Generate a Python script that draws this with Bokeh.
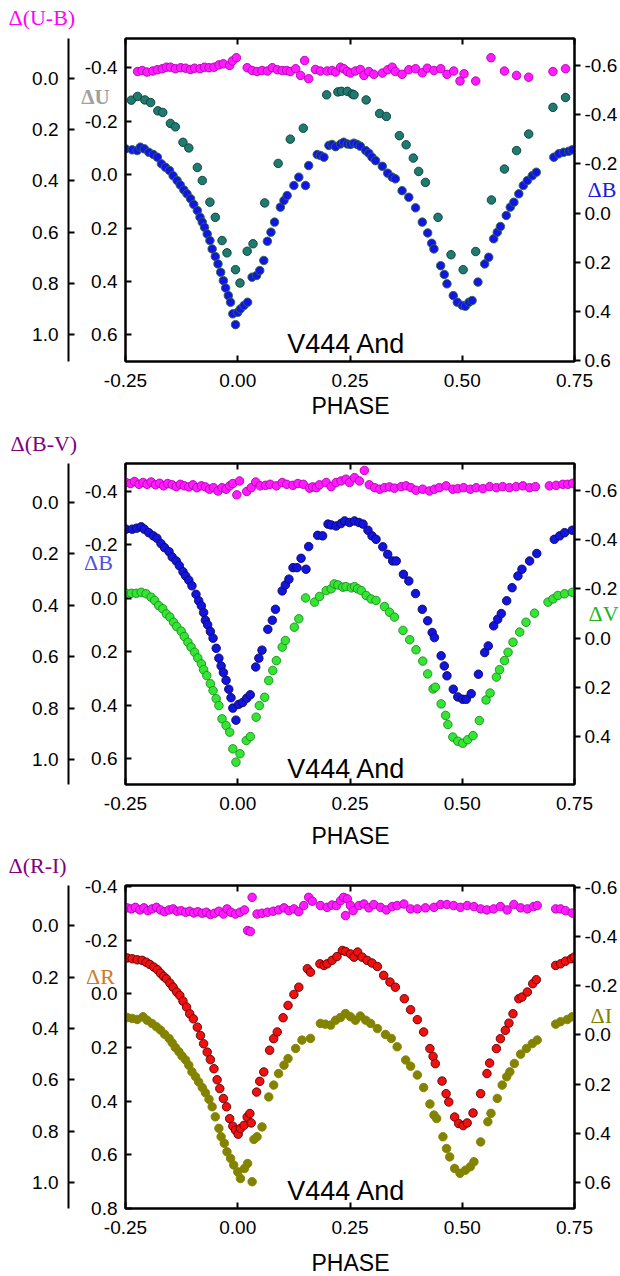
from bokeh.plotting import figure
from bokeh.models import Range1d, LinearAxis, FixedTicker, PrintfTickFormatter
from bokeh.layouts import column
from bokeh.embed import file_html
from bokeh.resources import INLINE
from bokeh.core.properties import value

# ---------------- tick labels ----------------
X_TICKS = [-0.25, 0.0, 0.25, 0.5, 0.75]
OUTER_TICKS = [0.0, 0.2, 0.4, 0.6, 0.8, 1.0]
INNER_TICKS_A = [-0.4, -0.2, 0.0, 0.2, 0.4, 0.6]
INNER_TICKS_B = [-0.4, -0.2, 0.0, 0.2, 0.4, 0.6, 0.8]
RIGHT_TICKS = [-0.6, -0.4, -0.2, 0.0, 0.2, 0.4, 0.6]

# ---------------- panel 1: U, B, U-B ----------------
UB_1 = [(-0.223,-0.027),(-0.213,-0.031),(-0.202,-0.025),(-0.189,-0.029),(-0.179,-0.034),(-0.168,-0.038),
        (-0.159,-0.044),(-0.150,-0.044),(-0.139,-0.038),(-0.127,-0.042),(-0.116,-0.040),(-0.105,-0.035),
        (-0.096,-0.040),(-0.084,-0.038),(-0.074,-0.044),(-0.064,-0.042),(-0.053,-0.044),(-0.042,-0.053),
        (-0.032,-0.057),(-0.018,-0.051),(-0.012,-0.068),(-0.003,-0.081),(0.021,-0.042),(0.032,-0.031),
        (0.043,-0.027),(0.054,-0.031),(0.066,-0.029),(0.077,-0.042),(0.088,-0.034),(0.099,-0.031),
        (0.109,-0.031),(0.117,-0.027),(0.129,-0.038),(0.140,-0.012),(0.149,-0.070),(0.158,0.001),
        (0.173,-0.035),(0.184,-0.029),(0.199,-0.029),(0.210,-0.031),(0.218,-0.025),(0.229,-0.044),
        (0.236,-0.038),(0.244,-0.027),(0.251,-0.021),(0.262,-0.029),(0.273,-0.035),(0.281,-0.012),
        (0.292,-0.027),(0.303,-0.016),(0.322,-0.021),(0.334,-0.034),(0.344,-0.044),(0.351,-0.027),
        (0.366,-0.016),(0.381,-0.034),(0.396,-0.038),(0.411,-0.022),(0.422,-0.040),(0.437,-0.031),
        (0.452,-0.038),(0.466,-0.016),(0.481,-0.029),(0.495,0.010),(0.504,-0.018),(0.530,0.010),
        (0.564,-0.081),(0.594,-0.029),(0.621,-0.012),(0.648,-0.005),(0.702,-0.027),(0.730,-0.038)]

U_1 = [(-0.237,-0.279),(-0.223,-0.293),(-0.207,-0.280),(-0.194,-0.270),(-0.178,-0.239),(-0.167,-0.233),
       (-0.150,-0.192),(-0.139,-0.179),(-0.122,-0.121),(-0.109,-0.100),(-0.090,-0.027),(-0.079,0.022),
       (-0.062,0.103),(-0.050,0.160),(-0.035,0.247),(-0.024,0.293),(-0.005,0.356),(0.005,0.406),
       (0.021,0.287),(0.034,0.259),(0.060,0.106),(0.090,-0.042),(0.117,-0.133),(0.146,-0.174),
       (0.198,-0.299),(0.223,-0.310),(0.231,-0.312),(0.244,-0.312),(0.255,-0.302),(0.259,-0.299),
       (0.286,-0.280),(0.316,-0.229),(0.331,-0.218),(0.360,-0.146),(0.375,-0.112),(0.391,-0.062),
       (0.403,-0.012),(0.418,0.029),(0.446,0.160),(0.475,0.300),(0.502,0.356),(0.530,0.288),
       (0.565,0.095),(0.594,-0.021),(0.621,-0.090),(0.648,-0.152),(0.702,-0.252),(0.730,-0.289)]

B_1 = [(-0.250,-0.261),(-0.235,-0.257),(-0.224,-0.254),(-0.217,-0.268),(-0.208,-0.261),(-0.198,-0.247),
       (-0.188,-0.238),(-0.179,-0.227),(-0.170,-0.200),(-0.161,-0.186),(-0.152,-0.173),(-0.144,-0.152),
       (-0.135,-0.132),(-0.128,-0.114),(-0.120,-0.094),(-0.113,-0.078),(-0.105,-0.058),(-0.098,-0.035),
       (-0.090,-0.010),(-0.084,0.017),(-0.079,0.037),(-0.074,0.058),(-0.068,0.085),(-0.062,0.112),
       (-0.057,0.146),(-0.050,0.177),(-0.044,0.207),(-0.038,0.241),(-0.032,0.275),(-0.027,0.305),
       (-0.021,0.336),(-0.016,0.363),(-0.011,0.410),(-0.005,0.454),(0.000,0.404),(0.006,0.390),
       (0.014,0.376),(0.022,0.363),(0.032,0.261),(0.042,0.254),(0.049,0.234),(0.058,0.193),
       (0.066,0.115),(0.074,0.078),(0.082,0.037),(0.095,-0.024),(0.103,-0.051),(0.110,-0.071),
       (0.125,-0.112),(0.136,-0.146),(0.151,-0.112),(0.158,-0.193),(0.177,-0.238),(0.184,-0.234),
       (0.192,-0.227),(0.203,-0.275),(0.210,-0.279),(0.218,-0.270),(0.229,-0.281),(0.236,-0.288),
       (0.244,-0.281),(0.251,-0.279),(0.259,-0.284),(0.266,-0.279),(0.273,-0.272),(0.285,-0.254),
       (0.292,-0.243),(0.299,-0.227),(0.307,-0.213),(0.322,-0.190),(0.334,-0.162),(0.344,-0.146),
       (0.351,-0.139),(0.366,-0.091),(0.381,-0.064),(0.396,-0.021),(0.411,0.037),(0.423,0.081),
       (0.432,0.123),(0.437,0.146),(0.452,0.214),(0.460,0.250),(0.466,0.288),(0.480,0.336),
       (0.489,0.363),(0.500,0.376),(0.507,0.379),(0.515,0.363),(0.522,0.356),(0.535,0.281),
       (0.550,0.207),(0.559,0.180),(0.570,0.105),(0.578,0.078),(0.585,0.055),(0.598,0.010),
       (0.607,-0.024),(0.615,-0.044),(0.626,-0.078),(0.636,-0.112),(0.645,-0.132),(0.656,-0.152),
       (0.665,-0.166),(0.704,-0.227),(0.715,-0.241),(0.726,-0.247),(0.737,-0.251),(0.745,-0.257)]

# ---------------- panel 2: B, V, B-V ----------------
BV_2 = [(-0.249,-0.078),(-0.239,-0.074),(-0.230,-0.082),(-0.220,-0.071),(-0.211,-0.078),(-0.202,-0.071),
        (-0.193,-0.080),(-0.183,-0.069),(-0.174,-0.075),(-0.165,-0.065),(-0.156,-0.074),(-0.146,-0.069),
        (-0.137,-0.062),(-0.128,-0.071),(-0.119,-0.065),(-0.109,-0.061),(-0.100,-0.069),(-0.091,-0.058),
        (-0.081,-0.065),(-0.072,-0.061),(-0.063,-0.052),(-0.054,-0.058),(-0.044,-0.045),(-0.035,-0.058),
        (-0.026,-0.052),(-0.018,-0.065),(-0.011,-0.074),(-0.002,-0.030),(0.004,-0.084),(0.020,-0.043),
        (0.030,-0.058),(0.040,-0.080),(0.050,-0.065),(0.062,-0.067),(0.072,-0.071),(0.086,-0.065),
        (0.099,-0.078),(0.109,-0.071),(0.123,-0.067),(0.134,-0.074),(0.146,-0.071),(0.160,-0.056),
        (0.167,-0.061),(0.175,-0.058),(0.182,-0.069),(0.197,-0.078),(0.208,-0.062),(0.219,-0.078),
        (0.230,-0.084),(0.241,-0.091),(0.249,-0.078),(0.260,-0.097),(0.271,-0.084),(0.282,-0.125),
        (0.293,-0.069),(0.305,-0.058),(0.316,-0.052),(0.327,-0.058),(0.338,-0.061),(0.349,-0.056),
        (0.364,-0.062),(0.375,-0.065),(0.386,-0.058),(0.397,-0.048),(0.412,-0.052),(0.427,-0.045),
        (0.438,-0.052),(0.449,-0.058),(0.464,-0.065),(0.479,-0.052),(0.490,-0.054),(0.503,-0.058),
        (0.518,-0.052),(0.531,-0.058),(0.546,-0.054),(0.561,-0.062),(0.576,-0.058),(0.590,-0.062),
        (0.605,-0.058),(0.620,-0.062),(0.635,-0.065),(0.650,-0.058),(0.663,-0.062),(0.694,-0.065),
        (0.709,-0.067),(0.724,-0.071),(0.735,-0.071),(0.746,-0.075)]

B_2 = [(-0.249,-0.259),(-0.235,-0.259),(-0.225,-0.263),(-0.215,-0.268),(-0.208,-0.259),(-0.198,-0.246),
       (-0.188,-0.234),(-0.180,-0.225),(-0.171,-0.205),(-0.163,-0.190),(-0.153,-0.175),(-0.146,-0.155),
       (-0.137,-0.140),(-0.130,-0.122),(-0.122,-0.100),(-0.116,-0.084),(-0.109,-0.068),(-0.102,-0.047),
       (-0.093,-0.015),(-0.087,0.009),(-0.081,0.028),(-0.076,0.053),(-0.072,0.082),(-0.067,0.099),
       (-0.061,0.124),(-0.055,0.149),(-0.048,0.187),(-0.042,0.224),(-0.037,0.253),(-0.032,0.278),
       (-0.026,0.307),(-0.020,0.340),(-0.015,0.372),(-0.011,0.411),(-0.004,0.456),(0.002,0.397),
       (0.011,0.390),(0.020,0.374),(0.028,0.361),(0.040,0.257),(0.047,0.224),(0.054,0.194),
       (0.067,0.116),(0.077,0.082),(0.084,0.041),(0.099,-0.028),(0.106,-0.050),(0.114,-0.072),
       (0.123,-0.115),(0.132,-0.115),(0.141,-0.150),(0.152,-0.109),(0.158,-0.194),(0.178,-0.236),
       (0.189,-0.234),(0.201,-0.278),(0.208,-0.275),(0.219,-0.271),(0.230,-0.280),(0.238,-0.290),
       (0.249,-0.284),(0.260,-0.290),(0.270,-0.284),(0.279,-0.278),(0.290,-0.255),(0.299,-0.234),
       (0.308,-0.221),(0.323,-0.193),(0.334,-0.165),(0.345,-0.140),(0.353,-0.140),(0.369,-0.090),
       (0.381,-0.065),(0.396,-0.018),(0.411,0.041),(0.423,0.084),(0.433,0.128),(0.438,0.147),
       (0.453,0.215),(0.460,0.253),(0.466,0.290),(0.480,0.340),(0.490,0.369),(0.501,0.378),
       (0.509,0.378),(0.520,0.357),(0.536,0.284),(0.550,0.203),(0.558,0.178),(0.570,0.103),
       (0.579,0.078),(0.587,0.057),(0.599,0.009),(0.611,-0.040),(0.624,-0.084),(0.633,-0.109),
       (0.650,-0.140),(0.666,-0.168),(0.705,-0.221),(0.717,-0.234),(0.728,-0.246),(0.745,-0.255)]

V_2 = [(-0.249,-0.182),(-0.237,-0.182),(-0.226,-0.182),(-0.215,-0.186),(-0.204,-0.180),(-0.193,-0.166),
       (-0.185,-0.153),(-0.176,-0.132),(-0.167,-0.119),(-0.159,-0.098),(-0.151,-0.085),(-0.143,-0.064),
       (-0.136,-0.047),(-0.126,-0.028),(-0.119,-0.006),(-0.111,0.017),(-0.104,0.037),(-0.096,0.058),
       (-0.089,0.081),(-0.081,0.105),(-0.076,0.129),(-0.069,0.153),(-0.061,0.186),(-0.055,0.214),
       (-0.048,0.247),(-0.042,0.275),(-0.035,0.329),(-0.026,0.356),(-0.018,0.383),(-0.011,0.451),
       (-0.004,0.505),(0.005,0.471),(0.019,0.417),(0.028,0.401),(0.041,0.322),(0.048,0.275),
       (0.060,0.241),(0.069,0.173),(0.078,0.132),(0.086,0.092),(0.099,0.037),(0.106,0.010),
       (0.126,-0.044),(0.136,-0.078),(0.151,-0.163),(0.171,-0.146),(0.182,-0.169),(0.197,-0.193),
       (0.208,-0.200),(0.215,-0.220),(0.223,-0.216),(0.234,-0.207),(0.241,-0.209),(0.253,-0.204),
       (0.260,-0.209),(0.267,-0.200),(0.275,-0.193),(0.286,-0.173),(0.297,-0.159),(0.308,-0.153),
       (0.327,-0.128),(0.338,-0.105),(0.349,-0.085),(0.368,-0.031),(0.383,0.007),(0.397,0.048),
       (0.412,0.094),(0.423,0.146),(0.435,0.207),(0.440,0.200),(0.453,0.268),(0.463,0.315),
       (0.468,0.352),(0.479,0.403),(0.490,0.420),(0.501,0.428),(0.512,0.414),(0.524,0.397),
       (0.538,0.336),(0.553,0.252),(0.562,0.224),(0.576,0.159),(0.583,0.129),(0.594,0.092),
       (0.602,0.058),(0.613,0.017),(0.628,-0.024),(0.642,-0.064),(0.661,-0.101),(0.691,-0.146),
       (0.702,-0.159),(0.713,-0.173),(0.728,-0.180),(0.745,-0.186)]

# ---------------- panel 3: R, I, R-I ----------------
RI_3 = [(-0.246,-0.069),(-0.237,-0.065),(-0.228,-0.071),(-0.218,-0.061),(-0.209,-0.069),(-0.200,-0.058),
        (-0.191,-0.065),(-0.181,-0.071),(-0.172,-0.061),(-0.163,-0.054),(-0.153,-0.061),(-0.144,-0.065),
        (-0.135,-0.056),(-0.126,-0.058),(-0.116,-0.052),(-0.107,-0.056),(-0.098,-0.049),(-0.089,-0.054),
        (-0.079,-0.048),(-0.070,-0.052),(-0.061,-0.043),(-0.052,-0.048),(-0.042,-0.056),(-0.032,-0.045),
        (-0.024,-0.065),(-0.015,-0.052),(-0.005,-0.045),(0.005,-0.052),(0.015,-0.061),(0.022,0.019),
        (0.028,0.023),(0.032,-0.110),(0.043,-0.045),(0.054,-0.048),(0.066,-0.052),(0.079,-0.056),
        (0.091,-0.061),(0.103,-0.069),(0.114,-0.058),(0.125,-0.065),(0.136,-0.054),(0.147,-0.078),
        (0.158,-0.110),(0.166,-0.095),(0.184,-0.078),(0.199,-0.071),(0.210,-0.080),(0.220,-0.078),
        (0.229,-0.097),(0.236,-0.110),(0.244,-0.104),(0.240,-0.039),(0.251,-0.078),(0.257,-0.058),
        (0.270,-0.078),(0.281,-0.084),(0.292,-0.069),(0.303,-0.082),(0.318,-0.071),(0.331,-0.061),
        (0.344,-0.074),(0.355,-0.078),(0.370,-0.084),(0.385,-0.065),(0.400,-0.065),(0.418,-0.069),
        (0.437,-0.071),(0.452,-0.082),(0.466,-0.082),(0.481,-0.078),(0.496,-0.071),(0.511,-0.078),
        (0.526,-0.074),(0.541,-0.065),(0.555,-0.061),(0.570,-0.065),(0.585,-0.074),(0.600,-0.061),
        (0.615,-0.082),(0.630,-0.069),(0.645,-0.065),(0.659,-0.074),(0.667,-0.078),(0.708,-0.065),
        (0.719,-0.065),(0.730,-0.058),(0.745,-0.049)]

R_3 = [(-0.246,-0.134),(-0.235,-0.131),(-0.224,-0.127),(-0.213,-0.125),(-0.204,-0.118),(-0.196,-0.110),
       (-0.187,-0.100),(-0.179,-0.090),(-0.172,-0.077),(-0.165,-0.065),(-0.159,-0.056),(-0.151,-0.040),
       (-0.144,-0.025),(-0.136,-0.007),(-0.129,0.006),(-0.122,0.027),(-0.114,0.049),(-0.107,0.074),
       (-0.099,0.093),(-0.090,0.124),(-0.083,0.155),(-0.076,0.186),(-0.068,0.217),(-0.061,0.245),
       (-0.053,0.279),(-0.046,0.320),(-0.040,0.353),(-0.032,0.390),(-0.025,0.421),(-0.018,0.465),
       (-0.011,0.493),(-0.005,0.508),(0.001,0.523),(0.006,0.502),(0.014,0.490),(0.021,0.459),
       (0.027,0.446),(0.030,0.481),(0.042,0.366),(0.049,0.326),(0.058,0.291),(0.071,0.210),
       (0.080,0.167),(0.088,0.142),(0.101,0.089),(0.112,0.043),(0.125,0.002),(0.136,-0.025),
       (0.155,-0.094),(0.162,-0.081),(0.183,-0.112),(0.192,-0.106),(0.199,-0.112),(0.210,-0.125),
       (0.221,-0.139),(0.233,-0.162),(0.240,-0.158),(0.251,-0.149),(0.259,-0.137),(0.267,-0.156),
       (0.277,-0.137),(0.288,-0.125),(0.299,-0.115),(0.311,-0.102),(0.325,-0.069),(0.339,-0.044),
       (0.351,-0.025),(0.371,0.018),(0.385,0.059),(0.400,0.096),(0.414,0.142),(0.428,0.204),
       (0.435,0.233),(0.440,0.260),(0.455,0.325),(0.464,0.372),(0.470,0.403),(0.483,0.459),
       (0.492,0.483),(0.502,0.491),(0.511,0.481),(0.524,0.444),(0.541,0.372),(0.555,0.297),
       (0.561,0.258),(0.576,0.204),(0.585,0.167),(0.596,0.136),(0.604,0.109),(0.613,0.074),
       (0.626,0.018),(0.633,0.012),(0.645,-0.007),(0.657,-0.038),(0.665,-0.053),(0.708,-0.106),
       (0.719,-0.112),(0.730,-0.122),(0.743,-0.131),(0.749,-0.137)]

I_3 = [(-0.246,-0.071),(-0.235,-0.067),(-0.224,-0.063),(-0.211,-0.074),(-0.202,-0.060),(-0.191,-0.047),
       (-0.181,-0.033),(-0.172,-0.020),(-0.163,-0.003),(-0.153,0.014),(-0.146,0.032),(-0.139,0.051),
       (-0.131,0.068),(-0.124,0.086),(-0.116,0.102),(-0.109,0.123),(-0.102,0.150),(-0.094,0.170),
       (-0.087,0.191),(-0.079,0.214),(-0.072,0.235),(-0.064,0.262),(-0.057,0.292),(-0.050,0.333),
       (-0.042,0.380),(-0.037,0.414),(-0.030,0.441),(-0.024,0.475),(-0.016,0.502),(-0.009,0.529),
       (0.000,0.557),(0.006,0.584),(0.015,0.543),(0.022,0.523),(0.032,0.597),(0.036,0.425),
       (0.043,0.414),(0.054,0.374),(0.069,0.252),(0.080,0.204),(0.091,0.157),(0.103,0.123),
       (0.112,0.096),(0.129,0.055),(0.143,0.021),(0.162,0.014),(0.184,-0.047),(0.195,-0.044),
       (0.207,-0.040),(0.218,-0.060),(0.229,-0.071),(0.240,-0.087),(0.251,-0.074),(0.262,-0.060),
       (0.273,-0.077),(0.285,-0.060),(0.296,-0.047),(0.311,-0.026),(0.329,-0.002),(0.342,0.014),
       (0.355,0.048),(0.374,0.102),(0.385,0.127),(0.400,0.163),(0.414,0.214),(0.428,0.281),
       (0.437,0.326),(0.443,0.340),(0.457,0.414),(0.465,0.462),(0.472,0.496),(0.483,0.543),
       (0.495,0.563),(0.507,0.550),(0.518,0.536),(0.526,0.516),(0.541,0.435),(0.557,0.353),
       (0.564,0.319),(0.578,0.258),(0.589,0.204),(0.599,0.170),(0.606,0.150),(0.616,0.116),
       (0.630,0.078),(0.643,0.055),(0.656,0.035),(0.667,0.021),(0.708,-0.044),(0.719,-0.054),
       (0.734,-0.063),(0.745,-0.074)]

SANS = "Liberation Sans"
SERIF = "Liberation Serif"
W = 620
FRAME_LEFT = 125        # frame left edge (px)
FRAME_RIGHT_BORDER = 46  # frame right edge at 574 px
FRAME_CX = FRAME_LEFT + 449 / 2.0


def style_axis(ax, ticks, fmt, tick_in, tick_out, standoff):
    ax.ticker = FixedTicker(ticks=ticks)
    ax.formatter = PrintfTickFormatter(format=fmt)
    ax.major_tick_in = tick_in
    ax.major_tick_out = tick_out
    ax.minor_tick_line_color = None
    ax.major_label_standoff = standoff
    ax.major_label_text_font = SANS
    ax.major_label_text_font_size = "19px"
    ax.major_label_text_color = "black"
    ax.axis_line_width = 2
    ax.axis_line_color = "black"
    ax.major_tick_line_width = 2
    ax.major_tick_line_color = "black"


def make_panel(height, top, bottom, inner_rng, outer_rng, right_rng, inner_ticks, spacer):
    p = figure(width=W, height=height, x_range=Range1d(-0.25, 0.75),
               y_range=Range1d(*inner_rng), output_backend="svg", toolbar_location=None,
               min_border_left=FRAME_LEFT, min_border_right=FRAME_RIGHT_BORDER,
               min_border_top=top, min_border_bottom=bottom)
    p.extra_y_ranges = {"outer": Range1d(*outer_rng), "right": Range1d(*right_rng)}
    p.xgrid.grid_line_color = None
    p.ygrid.grid_line_color = None
    p.outline_line_color = "black"
    p.outline_line_width = 2
    p.background_fill_color = "white"
    p.border_fill_color = "white"

    style_axis(p.xaxis[0], X_TICKS, "%.2f", 6, 0, 12)
    style_axis(p.yaxis[0], inner_ticks, "%.1f", 6, 0, 8)

    sp = LinearAxis(ticker=FixedTicker(ticks=[0.0]))
    sp.major_label_overrides = {0: ""}
    sp.major_label_text_font_size = "1px"
    sp.major_label_text_alpha = 0
    sp.major_label_standoff = 0
    sp.major_tick_out = spacer
    sp.major_tick_in = 0
    sp.major_tick_line_alpha = 0
    sp.minor_tick_line_color = None
    sp.axis_line_alpha = 0
    p.add_layout(sp, "left")

    outer = LinearAxis(y_range_name="outer")
    style_axis(outer, OUTER_TICKS, "%.1f", 6, 0, 10)
    p.add_layout(outer, "left")

    right = LinearAxis(y_range_name="right")
    style_axis(right, RIGHT_TICKS, "%.1f", 0, 6, 4)
    p.add_layout(right, "right")

    top_ax = LinearAxis()
    style_axis(top_ax, X_TICKS, "%.2f", 6, 0, 0)
    top_ax.major_label_text_font_size = "1px"
    top_ax.major_label_text_color = None
    p.add_layout(top_ax, "above")
    return p


def pts(p, data, rng, fill, line, size=8.5):
    xs = [a for a, _ in data]
    ys = [b for _, b in data]
    kw = {} if rng == "default" else {"y_range_name": rng}
    p.scatter(xs, ys, size=size, marker="circle", fill_color=fill, line_color=line,
              line_width=0.9, **kw)


def txt(p, rng, frame_top, frame_bot, fig_top, text, px, py, color, font, size,
        align="left", style="normal"):
    """Place a text at page position (px, py), anchored at the frame centre."""
    mid_val = (rng[0] + rng[1]) / 2.0
    mid_px = fig_top + (frame_top + frame_bot) / 2.0
    p.text(x=[0.25], y=[mid_val], text=[text], x_offset=px - FRAME_CX, y_offset=py - mid_px,
           text_color=color, text_font=value(font), text_font_size=value(size),
           text_align=align, text_baseline="middle", text_font_style=value(style),
           level="overlay")


MAG_FILL, MAG_LINE = "#ff1aff", "#b000b0"

# ---- panel 1 ---- (page 0..420, frame 38..361)
in1 = (0.70, -0.51)
p1 = make_panel(420, 38, 59, in1, (1.105, -0.156), (0.604, -0.71), INNER_TICKS_A, 13)
pts(p1, UB_1, "outer", MAG_FILL, MAG_LINE)
pts(p1, U_1, "default", "#1f7a70", "#0b3d37")
pts(p1, B_1, "right", "#1414e6", "#2a6e3a")
t1 = (in1, 38, 361, 0)
txt(p1, *t1, "Δ(U-B)", 8, 17, "#ff00ff", SERIF, "22px")
txt(p1, *t1, "ΔU", 95, 96, "#a0a0a0", SERIF, "21px", "center", "bold")
txt(p1, *t1, "ΔB", 587, 189, "#1a1ae0", SERIF, "22px")
txt(p1, *t1, "V444 And", 346, 343, "black", SANS, "27px", "center")
txt(p1, *t1, "PHASE", 350, 405, "black", SANS, "23px", "center")

# ---- panel 2 ---- (page 420..850, frame 463..784)
in2 = (0.697, -0.505)
p2 = make_panel(430, 43, 66, in2, (1.097, -0.152), (0.596, -0.71), INNER_TICKS_A, 13)
pts(p2, BV_2, "outer", MAG_FILL, MAG_LINE)
pts(p2, V_2, "right", "#33e633", "#1f8a1f")
pts(p2, B_2, "default", "#1414e0", "#0a0a60")
t2 = (in2, 43, 364, 420)
txt(p2, *t2, "Δ(B-V)", 10, 443, "#800080", SERIF, "22px")
txt(p2, *t2, "ΔB", 98, 562, "#5050e0", SERIF, "22px", "center")
txt(p2, *t2, "ΔV", 588, 613, "#22b422", SERIF, "22px")
txt(p2, *t2, "V444 And", 346, 768, "black", SANS, "27px", "center")
txt(p2, *t2, "PHASE", 350, 835, "black", SANS, "23px", "center")

# ---- panel 3 ---- (page 850..1276, frame 885..1208)
in3 = (0.80, -0.404)
p3 = make_panel(426, 35, 68, in3, (1.10, -0.156), (0.706, -0.608), INNER_TICKS_B, 13)
pts(p3, RI_3, "outer", MAG_FILL, MAG_LINE)
pts(p3, I_3, "right", "#838300", "#838300")
pts(p3, R_3, "default", "#f01010", "#5a0000")
t3 = (in3, 35, 358, 850)
txt(p3, *t3, "Δ(R-I)", 8, 865, "#800080", SERIF, "22px")
txt(p3, *t3, "ΔR", 100, 976, "#cc7a2a", SERIF, "22px", "center")
txt(p3, *t3, "ΔI", 590, 1015, "#808000", SERIF, "22px")
txt(p3, *t3, "V444 And", 346, 1190, "black", SANS, "27px", "center")
txt(p3, *t3, "PHASE", 350, 1262, "black", SANS, "23px", "center")

layout = column(p1, p2, p3, spacing=0)
open("out.html", "w").write(file_html(layout, INLINE))
